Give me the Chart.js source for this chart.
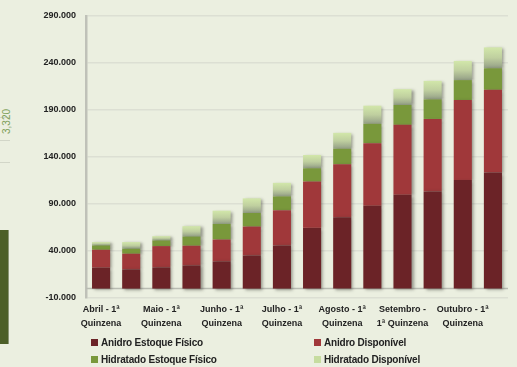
<!DOCTYPE html>
<html>
<head>
<meta charset="utf-8">
<script src="https://cdn.jsdelivr.net/npm/chart.js@4"></script>
<style>
  html, body { margin: 0; padding: 0; background: #ebefe0; }
  #wrap { position: relative; width: 517px; height: 367px; overflow: hidden; font-family: "Liberation Sans", Arial, sans-serif; }
  #chart { position: absolute; left: 0; top: 0; }
  #legend { position: absolute; left: 91px; top: 337px; width: 420px; }
  .item { position: absolute; font-size: 10px; font-weight: bold; color: #222; white-space: nowrap; letter-spacing: -0.2px; }
  .item span.sw { display: inline-block; width: 7px; height: 7px; margin-right: 3px; vertical-align: 0; }
  /* pedaço do outro gráfico à esquerda */
  #sideBar { position: absolute; left: 0; top: 230px; width: 8px; height: 114px; background: #4c5f28; border-right: 1px solid #8a9676; }
  #sideLabel { position: absolute; left: -6px; top: 116px; transform: rotate(-90deg); font-size: 10px; color: #7ea05a; }
  .sideGrid { position: absolute; left: 0; width: 10px; height: 1px; background: #d2d6c8; }
</style>
</head>
<body>
<div id="wrap">
  <div class="sideGrid" style="top:117px"></div>
  <div class="sideGrid" style="top:140px"></div>
  <div class="sideGrid" style="top:162px"></div>
  <div id="sideLabel">3,320</div>
  <div id="sideBar"></div>
  <canvas id="chart" width="517" height="367"></canvas>
  <div id="legend"></div>
</div>
<script>
// --- DADOS ---
const quinzenas = [
  'Abril - 1ª Quinzena', 'Abril - 2ª Quinzena',
  'Maio - 1ª Quinzena', 'Maio - 2ª Quinzena',
  'Junho - 1ª Quinzena', 'Junho - 2ª Quinzena',
  'Julho - 1ª Quinzena', 'Julho - 2ª Quinzena',
  'Agosto - 1ª Quinzena', 'Agosto - 2ª Quinzena',
  'Setembro - 1ª Quinzena', 'Setembro - 2ª Quinzena',
  'Outubro - 1ª Quinzena', 'Outubro - 2ª Quinzena'
];
// rótulos mostrados no eixo (só as 1ª quinzenas aparecem)
const rotulosEixo = [
  ['Abril - 1ª', 'Quinzena'], null,
  ['Maio - 1ª', 'Quinzena'], null,
  ['Junho - 1ª', 'Quinzena'], null,
  ['Julho - 1ª', 'Quinzena'], null,
  ['Agosto - 1ª', 'Quinzena'], null,
  ['Setembro -', '1ª Quinzena'], null,
  ['Outubro - 1ª', 'Quinzena'], null
];

const anidroEstoque     = [22300, 20500, 22600, 24700, 29000, 35300, 45900, 64600, 75900, 88200, 99800, 103400, 115600, 123500];
const anidroDisponivel  = [19000, 16600, 22600, 20900, 23200, 30700, 37400, 49300, 56300, 66500, 74400, 77100, 85000, 88000];
const hidratadoEstoque  = [4600, 5300, 6000, 9800, 16600, 14400, 14800, 14100, 16600, 20600, 21100, 20800, 21200, 22900];
const hidratadoDisponivel = [3600, 7100, 4600, 11000, 14100, 15600, 14400, 14100, 16900, 19300, 16900, 19700, 20400, 22200];

const yMin = -10000;
const yMax = 290000;
const yStep = 50000;

// --- CORES ---
const corAnidroEstoque = '#6b2327';
const corAnidroDisp = '#a0383a';
const corHidEstoque = '#79983b';
const corHidDisp = '#c6dc9f';

function formatarMilhar(v) {
  const s = Math.abs(v).toString().replace(/\B(?=(\d{3})+(?!\d))/g, '.');
  return (v < 0 ? '-' : '') + s;
}

// gradiente do verde claro (topo claro, base acinzentada), calculado pela escala
function gradienteClaro(ctx) {
  const chart = ctx.chart;
  const ys = chart.scales && chart.scales.y;
  const i = ctx.dataIndex;
  if (!ys || i === undefined) return corHidDisp;
  const base = anidroEstoque[i] + anidroDisponivel[i] + hidratadoEstoque[i];
  const topo = base + hidratadoDisponivel[i];
  const y1 = ys.getPixelForValue(topo);
  const y2 = ys.getPixelForValue(base);
  if (!isFinite(y1) || !isFinite(y2) || y1 === y2) return corHidDisp;
  const g = chart.ctx.createLinearGradient(0, y1, 0, y2);
  g.addColorStop(0, '#d2e7aa');
  g.addColorStop(0.5, '#bfcf9f');
  g.addColorStop(1, '#949f86');
  return g;
}

// linha do eixo horizontal no zero + sombra das barras
const extras = {
  id: 'extras',
  beforeDatasetsDraw(chart) {
    const { ctx, chartArea, scales } = chart;
    const y0 = scales.y.getPixelForValue(0);
    ctx.save();
    ctx.strokeStyle = '#b9bcb2';
    ctx.lineWidth = 1.5;
    ctx.beginPath();
    ctx.moveTo(chartArea.left, y0);
    ctx.lineTo(chartArea.right, y0);
    ctx.stroke();
    ctx.restore();
    ctx.save();
    ctx.shadowColor = 'rgba(60,60,50,0.5)';
    ctx.shadowBlur = 3;
    ctx.shadowOffsetX = 2;
    ctx.shadowOffsetY = 1;
  },
  afterDatasetsDraw(chart) {
    chart.ctx.restore();
  }
};

const datasets = [
  { label: 'Anidro Estoque Físico', data: anidroEstoque, backgroundColor: corAnidroEstoque, legendColor: corAnidroEstoque },
  { label: 'Anidro Disponível', data: anidroDisponivel, backgroundColor: corAnidroDisp, legendColor: corAnidroDisp },
  { label: 'Hidratado Estoque Físico', data: hidratadoEstoque, backgroundColor: corHidEstoque, legendColor: corHidEstoque },
  { label: 'Hidratado Disponível', data: hidratadoDisponivel, backgroundColor: gradienteClaro, legendColor: corHidDisp }
];

new Chart(document.getElementById('chart'), {
  type: 'bar',
  data: {
    labels: quinzenas,
    datasets: datasets.map(d => ({
      label: d.label,
      data: d.data,
      backgroundColor: d.backgroundColor,
      borderWidth: 0,
      barPercentage: 0.6,
      categoryPercentage: 1.0
    }))
  },
  options: {
    responsive: false,
    animation: false,
    layout: { padding: { left: 0, right: 9, top: 16, bottom: 35 } },
    plugins: {
      legend: { display: false },
      tooltip: { enabled: false }
    },
    scales: {
      x: {
        stacked: true,
        grid: { display: false, drawTicks: false },
        border: { display: false },
        afterFit: (s) => { s.height = 34; },
        ticks: {
          autoSkip: false,
          maxRotation: 0,
          padding: 5,
          color: '#222',
          font: { family: 'Liberation Sans', size: 9, weight: 'bold', lineHeight: 1.5 },
          callback: (v, i) => rotulosEixo[i] || ''
        }
      },
      y: {
        stacked: true,
        min: yMin,
        max: yMax,
        afterFit: (s) => { s.width = 86; },
        afterBuildTicks: (s) => {
          const t = [];
          for (let v = yMin; v <= yMax; v += yStep) t.push({ value: v });
          s.ticks = t;
        },
        grid: { color: '#dcdfd3', lineWidth: 1.5, drawTicks: false },
        border: { color: '#bfc1b8', width: 2.5 },
        ticks: {
          padding: 10,
          color: '#222',
          font: { family: 'Liberation Sans', size: 9, weight: 'bold' },
          callback: (v) => formatarMilhar(v)
        }
      }
    }
  },
  plugins: [extras]
});

// --- LEGENDA EM DUAS COLUNAS ---
const legenda = document.getElementById('legend');
datasets.forEach((d, i) => {
  const item = document.createElement('div');
  item.className = 'item';
  item.style.left = (i % 2 === 0 ? 0 : 223) + 'px';
  item.style.top = (i < 2 ? 0 : 17) + 'px';
  item.innerHTML = '<span class="sw" style="background:' + d.legendColor + '"></span>' + d.label;
  legenda.appendChild(item);
});
</script>
</body>
</html>
